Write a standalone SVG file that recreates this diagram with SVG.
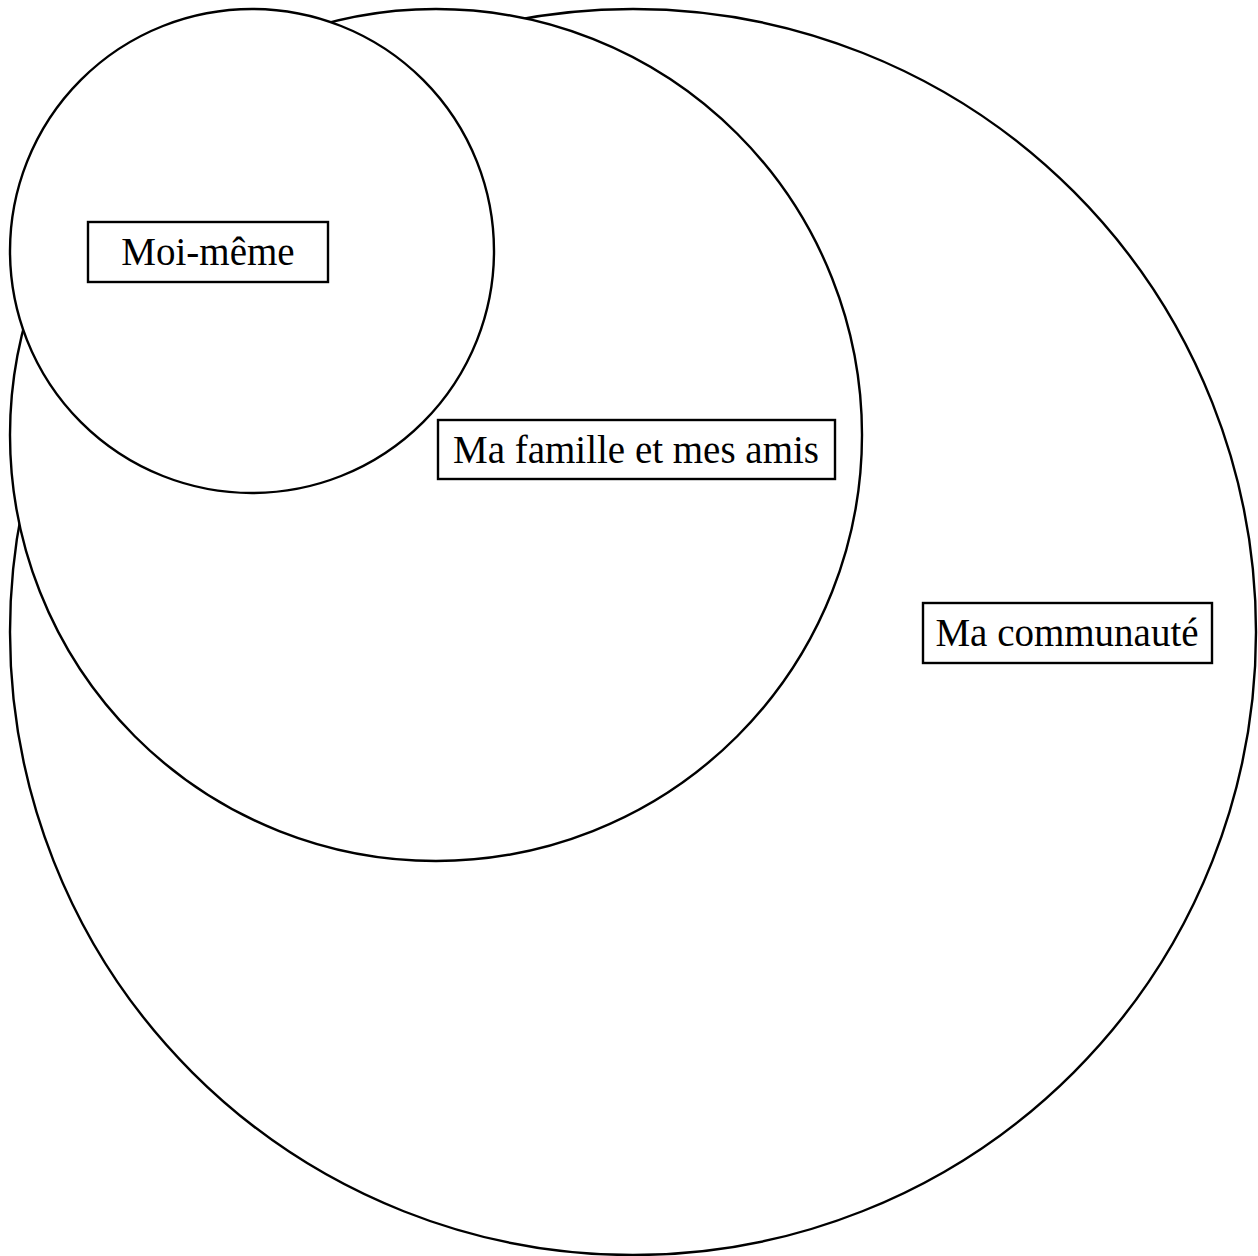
<svg xmlns="http://www.w3.org/2000/svg" width="1258" height="1256" viewBox="0 0 1258 1256">
<style>
.c{fill:#fff;stroke:#000;stroke-width:2.4}
.b{fill:#fff;stroke:#000;stroke-width:2.4}
.t{font-family:"Liberation Serif",serif;font-size:39px;fill:#000;text-anchor:middle}
</style>
<rect width="1258" height="1256" fill="#fff"/>
<g id="communaute">
<circle class="c" cx="633" cy="632" r="623"/>
</g>
<g id="famille">
<circle class="c" cx="436" cy="435" r="426"/>
</g>
<g id="moi">
<circle class="c" cx="252" cy="251" r="242"/>
</g>
<g id="label-moi">
<rect class="b" x="88" y="222" width="240" height="60"/>
<text class="t" x="208" y="265">Moi-même</text>
</g>
<g id="label-famille">
<rect class="b" x="438" y="420" width="397" height="59"/>
<text class="t" x="636" y="463">Ma famille et mes amis</text>
</g>
<g id="label-communaute">
<rect class="b" x="923" y="603" width="289" height="60"/>
<text class="t" x="1067" y="646">Ma communauté</text>
</g>
<g id="connectors"></g>
</svg>
